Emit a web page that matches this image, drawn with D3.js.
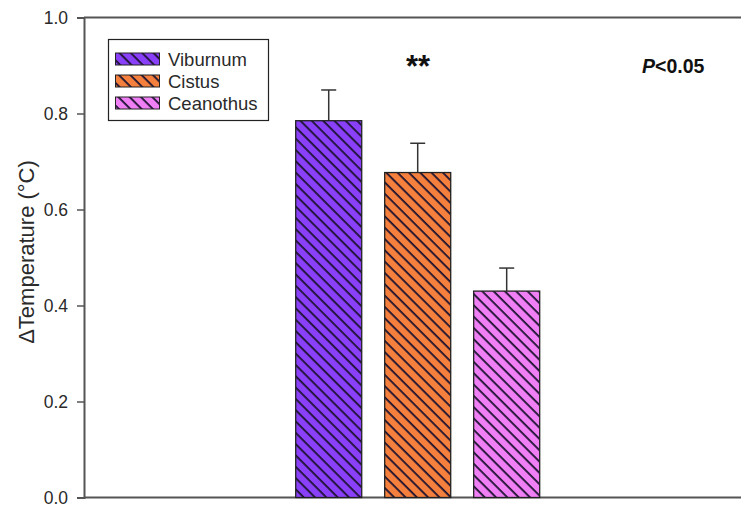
<!DOCTYPE html>
<html>
<head>
<meta charset="utf-8">
<script src="https://cdn.jsdelivr.net/npm/d3@7"></script>
<style>
  html, body { margin: 0; padding: 0; background: #fff; }
  svg { display: block; font-family: Arial, "Liberation Sans", sans-serif; }
</style>
</head>
<body>
<svg id="chart" width="741" height="506"></svg>
<script>
// Species and mean temperature change with standard error
const species = ["Viburnum", "Cistus", "Ceanothus"];
const meanValues = [0.785, 0.677, 0.430];
const errorValues = [0.064, 0.061, 0.048];
const fillColors = ["#8a3ff9", "#f5803d", "#f07ef4"];
const yTicks = [0.0, 0.2, 0.4, 0.6, 0.8, 1.0];

const svg = d3.select("#chart");
const W = 741, H = 506;
const margin = { left: 84, top: 17.5, bottom: 8.5 };
const plotBottom = H - margin.bottom;

const y = d3.scaleLinear().domain([0, 1]).range([plotBottom, margin.top]);

// Bars sit in a band in the middle of the x range
const x = d3.scaleBand()
  .domain(species)
  .range([295.7, 539.7])
  .paddingInner(0.258)
  .paddingOuter(0);

// Diagonal hatching patterns ("\" direction), one per fill colour
const defs = svg.append("defs");
const hatch = 8;
species.forEach((s, i) => {
  const p = defs.append("pattern")
    .attr("id", "hatch" + i)
    .attr("patternUnits", "userSpaceOnUse")
    .attr("width", hatch)
    .attr("height", hatch)
    .attr("patternTransform", "rotate(45)");
  p.append("rect").attr("width", hatch).attr("height", hatch).attr("fill", fillColors[i]);
  p.append("line")
    .attr("x1", 0).attr("y1", 0).attr("x2", hatch).attr("y2", 0)
    .attr("stroke", "#1c1230").attr("stroke-width", 3.6);
});

// Axes frame: left, top and bottom lines
const axisColor = "#555";
svg.append("line").attr("x1", margin.left).attr("x2", W).attr("y1", margin.top).attr("y2", margin.top)
  .attr("stroke", axisColor).attr("stroke-width", 2);
svg.append("line").attr("x1", margin.left).attr("x2", W).attr("y1", plotBottom).attr("y2", plotBottom)
  .attr("stroke", axisColor).attr("stroke-width", 2);

const yAxis = d3.axisLeft(y).tickValues(yTicks).tickFormat(d3.format(".1f")).tickSize(7).tickPadding(9);
const gy = svg.append("g").attr("transform", `translate(${margin.left},0)`).call(yAxis);
gy.attr("font-size", null).attr("font-family", null);
gy.select(".domain").attr("stroke", axisColor).attr("stroke-width", 2);
gy.selectAll(".tick line").attr("stroke", axisColor).attr("stroke-width", 1.5);
gy.selectAll(".tick text").style("font-size", "17.5px").attr("fill", "#2a2a2a");

// Y axis title
svg.append("text")
  .attr("transform", `translate(34,252) rotate(-90)`)
  .attr("text-anchor", "middle")
  .style("font-size", "22px")
  .attr("fill", "#2a2a2a")
  .text("\u0394Temperature (\u00B0C)");

// Error bars (upper whisker only)
const errG = svg.append("g");
species.forEach((s, i) => {
  const cx = x(s) + x.bandwidth() / 2;
  errG.append("line")
    .attr("x1", cx).attr("x2", cx)
    .attr("y1", y(meanValues[i])).attr("y2", y(meanValues[i] + errorValues[i]))
    .attr("stroke", "#333").attr("stroke-width", 1.5);
  errG.append("line")
    .attr("x1", cx - 7.5).attr("x2", cx + 7.5)
    .attr("y1", y(meanValues[i] + errorValues[i])).attr("y2", y(meanValues[i] + errorValues[i]))
    .attr("stroke", "#333").attr("stroke-width", 1.5);
});

// Bars
svg.append("g").selectAll("rect")
  .data(species)
  .join("rect")
  .attr("x", d => x(d))
  .attr("y", (d, i) => y(meanValues[i]))
  .attr("width", x.bandwidth())
  .attr("height", (d, i) => y(0) - y(meanValues[i]))
  .attr("fill", (d, i) => `url(#hatch${i})`)
  .attr("stroke", "#222")
  .attr("stroke-width", 1.3);

// Legend
const legend = svg.append("g");
legend.append("rect")
  .attr("x", 108.5).attr("y", 39.5).attr("width", 160).attr("height", 81)
  .attr("fill", "#fff").attr("stroke", "#222").attr("stroke-width", 1.2);
species.forEach((s, i) => {
  const cy = 59 + i * 22;
  legend.append("rect")
    .attr("x", 115.5).attr("y", cy - 6).attr("width", 44).attr("height", 12)
    .attr("fill", `url(#hatch${i})`).attr("stroke", "#222").attr("stroke-width", 1);
  legend.append("text")
    .attr("x", 168).attr("y", cy + 6.5)
    .style("font-size", "18.5px").attr("fill", "#2a2a2a")
    .text(s);
});

// Significance annotations
svg.append("text")
  .attr("x", 418).attr("y", 77)
  .attr("text-anchor", "middle")
  .style("font-size", "31px").attr("font-weight", "bold").attr("fill", "#111")
  .text("**");

const pText = svg.append("text")
  .attr("x", 642).attr("y", 73)
  .style("font-size", "19.5px").attr("font-weight", "bold").attr("fill", "#111");
pText.append("tspan").attr("font-style", "italic").text("P");
pText.append("tspan").text("<0.05");
</script>
</body>
</html>
